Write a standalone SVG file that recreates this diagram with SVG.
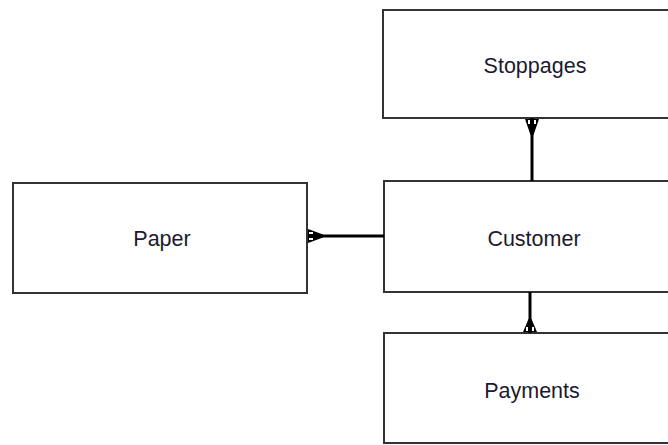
<svg xmlns="http://www.w3.org/2000/svg" width="668" height="445" viewBox="0 0 668 445">
<style>
.box{fill:#fff;stroke:#333;stroke-width:2}
.lbl{font-family:"Liberation Sans",Arial,sans-serif;font-size:21.5px;fill:#1a1a33;text-anchor:middle}
.conn{stroke:#000;stroke-width:3;fill:none}
.foot{fill:#000}
.hole{fill:#fff}
</style>
<rect width="668" height="445" fill="#fff"/>
<g id="stoppages">
<rect class="box" x="383" y="10" width="304" height="108"/>
<text class="lbl" x="535" y="73">Stoppages</text>
</g>
<g id="paper">
<rect class="box" x="13" y="183" width="294" height="110"/>
<text class="lbl" x="162" y="246">Paper</text>
</g>
<g id="customer">
<rect class="box" x="384" y="181" width="300" height="111"/>
<text class="lbl" x="534" y="246">Customer</text>
</g>
<g id="payments">
<rect class="box" x="384" y="333" width="300" height="110"/>
<text class="lbl" x="532" y="398">Payments</text>
</g>
<g id="connectors">
<line class="conn" x1="532" y1="118" x2="532" y2="181"/>
<path class="foot" d="M530.5 135 L533.5 135 L539 119 L525 119 Z"/>
<rect class="hole" x="528" y="120" width="2" height="4"/>
<rect class="hole" x="534" y="120" width="2" height="4"/>
<line class="conn" x1="308" y1="236" x2="384" y2="236"/>
<path class="foot" d="M323 234.5 L323 237.5 L308 243 L308 229 Z"/>
<rect class="hole" x="309" y="232" width="4" height="2"/>
<rect class="hole" x="309" y="238" width="4" height="2"/>
<line class="conn" x1="530" y1="292" x2="530" y2="333"/>
<path class="foot" d="M528.5 319 L531.5 319 L537 332 L523 332 Z"/>
<rect class="hole" x="526" y="327" width="2" height="4"/>
<rect class="hole" x="532" y="327" width="2" height="4"/>
</g>
</svg>
